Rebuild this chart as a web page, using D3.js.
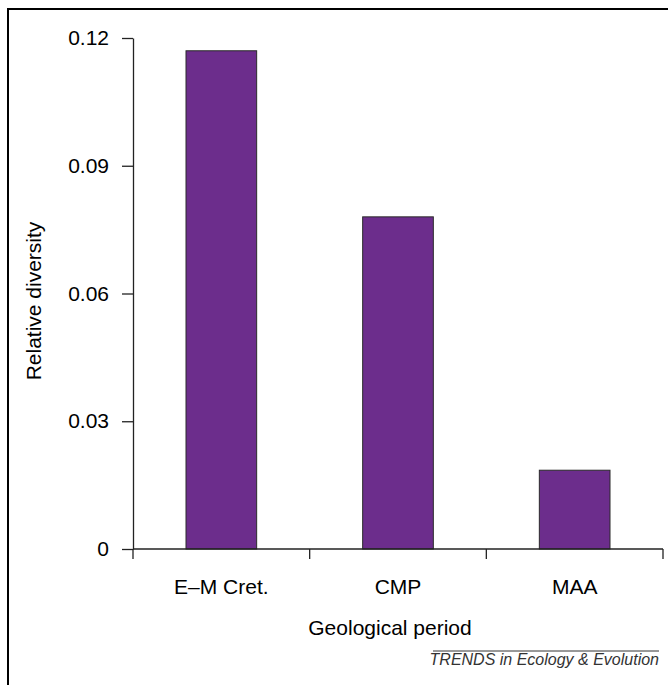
<!DOCTYPE html>
<html>
<head>
<meta charset="utf-8">
<script src="https://cdn.jsdelivr.net/npm/d3@7"></script>
<style>
  body { margin: 0; background: #fff; }
  svg { display: block; font-family: Arial, "Liberation Sans", Helvetica, sans-serif; }
</style>
</head>
<body>
<svg width="668" height="685"></svg>
<script>
const periods = ["E–M Cret.", "CMP", "MAA"];
const diversity = [0.117, 0.078, 0.0185];
const yTicks = [0, 0.03, 0.06, 0.09, 0.12];
const yTickLabels = ["0", "0.03", "0.06", "0.09", "0.12"];

const margin = {top: 38, left: 133, right: 5, bottom: 136};
const width = 668, height = 685;

const svg = d3.select("svg");

// outer frame (only top and left edges show in the crop)
svg.append("rect")
  .attr("x", 8).attr("y", 9)
  .attr("width", 700).attr("height", 700)
  .attr("fill", "none")
  .attr("stroke", "#000")
  .attr("stroke-width", 2);

const plotW = 663 - margin.left;
const plotH = 549 - margin.top;

const g = svg.append("g")
  .attr("transform", `translate(${margin.left}, ${margin.top})`);

const x = d3.scaleBand()
  .domain(periods)
  .range([0, plotW])
  .paddingInner(0.6)
  .paddingOuter(0.3);

// category boundaries for the x ticks
const xCell = d3.scaleBand().domain(periods).range([0, plotW]).padding(0);

const y = d3.scaleLinear()
  .domain([0, 0.12])
  .range([plotH, 0]);

// bars
g.selectAll("rect.bar")
  .data(periods)
  .enter().append("rect")
  .attr("class", "bar")
  .attr("x", d => x(d))
  .attr("y", (d, i) => y(diversity[i]))
  .attr("width", x.bandwidth())
  .attr("height", (d, i) => plotH - y(diversity[i]))
  .attr("fill", "#6c2d8c")
  .attr("stroke", "#2a2a2a")
  .attr("stroke-width", 1);

// Y axis
const yAxis = d3.axisLeft(y)
  .tickValues(yTicks)
  .tickFormat((d, i) => yTickLabels[i])
  .tickSize(11)
  .tickSizeOuter(0)
  .tickPadding(13);

const gy = g.append("g").call(yAxis);
gy.select(".domain").attr("stroke", "#222").attr("stroke-width", 1.3);
gy.selectAll(".tick line").attr("stroke", "#222").attr("stroke-width", 1.3);
gy.selectAll(".tick text")
  .attr("font-size", "21px")
  .attr("fill", "#000")
  .attr("font-family", "Arial, 'Liberation Sans', sans-serif");

// X axis: ticks at category boundaries, labels at centres
const boundaries = periods.map(d => xCell(d)).concat([plotW]);
const gx = g.append("g").attr("transform", `translate(0, ${plotH})`);
gx.append("line")
  .attr("x1", 0).attr("x2", plotW)
  .attr("stroke", "#222").attr("stroke-width", 1.3);
gx.selectAll("line.xt")
  .data(boundaries)
  .enter().append("line")
  .attr("class", "xt")
  .attr("x1", d => d).attr("x2", d => d)
  .attr("y1", 0).attr("y2", 10)
  .attr("stroke", "#222").attr("stroke-width", 1.3);
gx.selectAll("text")
  .data(periods)
  .enter().append("text")
  .attr("x", d => xCell(d) + xCell.bandwidth() / 2)
  .attr("y", 45)
  .attr("text-anchor", "middle")
  .attr("font-size", "21px")
  .attr("fill", "#000")
  .text(d => d);

// axis titles
g.append("text")
  .attr("x", 257)
  .attr("y", 597)
  .attr("text-anchor", "middle")
  .attr("font-size", "21px")
  .attr("fill", "#000")
  .text("Geological period");

g.append("text")
  .attr("transform", "rotate(-90)")
  .attr("x", -(301 - margin.top))
  .attr("y", 41 - margin.left)
  .attr("text-anchor", "middle")
  .attr("font-size", "21px")
  .attr("fill", "#000")
  .text("Relative diversity");

// journal credit
svg.append("line")
  .attr("x1", 433).attr("x2", 659)
  .attr("y1", 651).attr("y2", 651)
  .attr("stroke", "#333").attr("stroke-width", 1);

svg.append("text")
  .attr("x", 659)
  .attr("y", 665)
  .attr("text-anchor", "end")
  .attr("font-size", "16px")
  .attr("font-style", "italic")
  .attr("fill", "#333")
  .text("TRENDS in Ecology & Evolution");
</script>
</body>
</html>
